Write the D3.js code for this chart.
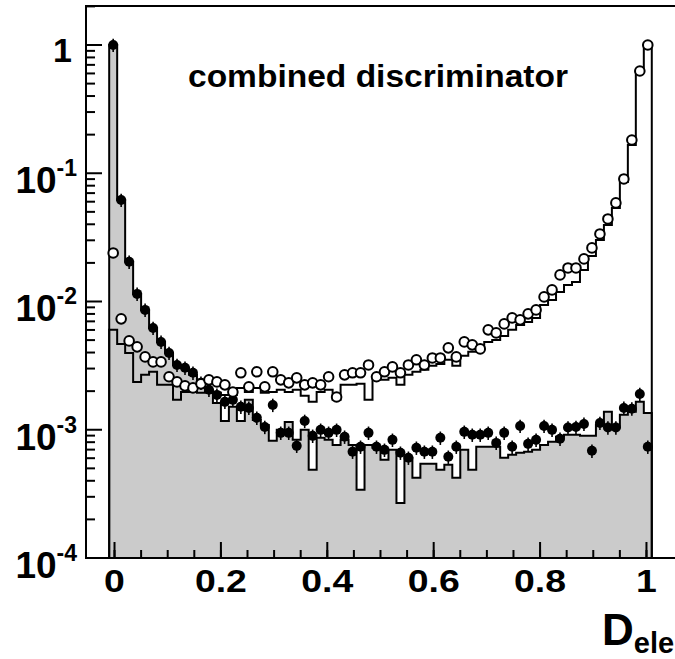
<!DOCTYPE html>
<html><head><meta charset="utf-8">
<script src="https://cdn.jsdelivr.net/npm/d3@7"></script>
<style>html,body{margin:0;padding:0;background:#fff;overflow:hidden}</style>
</head><body>
<svg id="c" width="675" height="659"></svg>
<script>
// ---- binning of the histograms ----
const binLow = -0.01, binHigh = 1.01, nBins = 68;

// ---- signal (open circles) data points ----
const sigData = [
  0.0239, 0.00732, 0.00493, 0.00443, 0.00370, 0.00338, 0.00338, 0.00259, 0.00236, 0.00220,
  0.00212, 0.00228, 0.00245, 0.00236, 0.00224, 0.00197, 0.00278, 0.00216, 0.00283, 0.00216,
  0.00283, 0.00245, 0.00232, 0.00254, 0.00224, 0.00232, 0.00224, 0.00259, 0.00180, 0.00268,
  0.00278, 0.00278, 0.00320, 0.00259, 0.00283, 0.00309, 0.00278, 0.00320, 0.00351, 0.00320,
  0.00363, 0.00363, 0.00435, 0.00370, 0.00484, 0.00459, 0.00427, 0.00601, 0.00569, 0.00669,
  0.00745, 0.00719, 0.00801, 0.00860, 0.01086, 0.01231, 0.01612, 0.01827, 0.01827, 0.02148,
  0.02617, 0.03363, 0.04402, 0.0587, 0.0903, 0.1817, 0.627, 1.0
];
// ---- signal histogram (open step line) ----
const sigHist = [
  0.00601, 0.00467, 0.00397, 0.00236, 0.00268, 0.00283, 0.00224, 0.00224, 0.00171, 0.00197,
  0.00197, 0.00194, 0.00197, 0.00194, 0.00187, 0.00187, 0.00212, 0.00197, 0.00212, 0.00194,
  0.00197, 0.00205, 0.00197, 0.00205, 0.00184, 0.00165, 0.00197, 0.00205, 0.00171, 0.00224,
  0.00224, 0.00228, 0.00171, 0.00245, 0.00245, 0.00254, 0.00224, 0.00268, 0.00283, 0.00293,
  0.00315, 0.00326, 0.00351, 0.00315, 0.00377, 0.00405, 0.00435, 0.00484, 0.00502, 0.00539,
  0.00601, 0.00657, 0.00693, 0.00745, 0.00941, 0.01029, 0.01188, 0.01347, 0.01421, 0.01763,
  0.02266, 0.0302, 0.03954, 0.0536, 0.0855, 0.1662, 0.616, 1.0
];
// ---- background (filled circles) data points ----
const bkgData = [
  1.0, 0.0619, 0.0204, 0.01146, 0.00860, 0.00622, 0.00484, 0.00397, 0.00320, 0.00304,
  0.00278, 0.00232, 0.00205, 0.00187, 0.00165, 0.00171, 0.00151, 0.00148, 0.00124, 0.00105,
  0.00156, 0.000946, 0.000946, 0.000749, 0.00117, 0.000896, 0.000998, 0.000946, 0.000998, 0.000881,
  0.000673, 0.000736, 0.000946, 0.000736, 0.000697, 0.000834, 0.000661, 0.000604, 0.000723, 0.000673,
  0.000673, 0.000865, 0.000615, 0.000736, 0.000963, 0.000913, 0.000913, 0.000946, 0.000790, 0.000946,
  0.000736, 0.00107, 0.000776, 0.000834, 0.00107, 0.000998, 0.000850, 0.00104, 0.00105, 0.00111,
  0.000685, 0.00113, 0.00104, 0.00104, 0.00148, 0.00146, 0.00190, 0.000736
];
const bkgRelErr = 0.12;
// ---- background histogram (grey filled) ----
const bkgHist = [
  1.0, 0.0619, 0.0204, 0.01146, 0.00860, 0.00622, 0.00484, 0.00397, 0.00320, 0.00304,
  0.00268, 0.00224, 0.00205, 0.00162, 0.00117, 0.00151, 0.00117, 0.00171, 0.00119, 0.00109,
  0.000819, 0.000998, 0.00115, 0.000834, 0.000998, 0.000487, 0.000865, 0.000834, 0.000762, 0.000834,
  0.000762, 0.000340, 0.000762, 0.000723, 0.000583, 0.000697, 0.000269, 0.000604, 0.000422, 0.000542,
  0.000542, 0.000487, 0.000533, 0.000422, 0.000697, 0.000487, 0.000736, 0.000736, 0.000736, 0.000604,
  0.000637, 0.000661, 0.000673, 0.000697, 0.000762, 0.000805, 0.000881, 0.000913, 0.000913, 0.000896,
  0.000896, 0.00109, 0.00138, 0.00104, 0.00131, 0.00138, 0.00165, 0.00135
];

// ---- axes ----
const xTickValues = [0, 0.2, 0.4, 0.6, 0.8, 1];
const xTickLabels = ["0", "0.2", "0.4", "0.6", "0.8", "1"];
const xMinorStep = 0.05;
const yTickValues = [1, 0.1, 0.01, 0.001, 0.0001];
const yTickExps = [null, "-1", "-2", "-3", "-4"];
const titleText = "combined discriminator";
const xTitleMain = "D", xTitleSub = "ele";

const FONT = "'Liberation Sans', Arial, Helvetica, sans-serif";
const svg = d3.select("#c");
const x = d3.scaleLinear().domain([-0.0536, 1.0574]).range([86, 677]);
const y = d3.scaleLog().domain([1e-4, 2.014]).range([558, 6]);
const yBottom = y(1e-4);

const binW = (binHigh - binLow) / nBins;
const edges = d3.range(nBins + 1).map(i => binLow + i * binW);
const centers = d3.range(nBins).map(i => binLow + (i + 0.5) * binW);

function stepPoints(vals) {
  const pts = [[edges[0], 1e-4]];
  vals.forEach((v, i) => { pts.push([edges[i], v]); pts.push([edges[i + 1], v]); });
  pts.push([edges[nBins], 1e-4]);
  return pts;
}

// grey background histogram
const bkgPts = stepPoints(bkgHist);
svg.append("path")
  .attr("d", d3.area().x(d => x(d[0])).y0(yBottom).y1(d => y(d[1]))(bkgPts))
  .attr("fill", "#cbcbcb");
svg.append("path")
  .attr("d", d3.line().x(d => x(d[0])).y(d => y(d[1]))(bkgPts))
  .attr("fill", "none").attr("stroke", "#000").attr("stroke-width", 2);

// signal histogram outline
svg.append("path")
  .attr("d", d3.line().x(d => x(d[0])).y(d => y(d[1]))(stepPoints(sigHist)))
  .attr("fill", "none").attr("stroke", "#000").attr("stroke-width", 2);

// frame
svg.append("rect").attr("x", 86).attr("y", 6).attr("width", 591).attr("height", 552)
  .attr("fill", "none").attr("stroke", "#000").attr("stroke-width", 2);

// y ticks
const yt = svg.append("g");
yTickValues.forEach(v => {
  yt.append("line").attr("x1", 86).attr("x2", 102).attr("y1", y(v)).attr("y2", y(v))
    .attr("stroke", "#000").attr("stroke-width", 2);
});
const yMinor = [];
[1e-4, 1e-3, 1e-2, 1e-1, 1].forEach(dec => { for (let m = 2; m <= 9; m++) { const v = dec * m; if (v < 2.014) yMinor.push(v); } });
yMinor.forEach(v => {
  yt.append("line").attr("x1", 86).attr("x2", 95).attr("y1", y(v)).attr("y2", y(v))
    .attr("stroke", "#000").attr("stroke-width", 2);
});
yTickValues.forEach((v, i) => {
  if (yTickExps[i] === null) {
    yt.append("text").attr("x", 72).attr("y", y(v) + 17).attr("text-anchor", "end")
      .attr("font-family", FONT).attr("font-weight", "bold").attr("font-size", 34).text("1");
  } else {
    const t = yt.append("text").attr("x", 77).attr("y", y(v) + 20).attr("text-anchor", "end")
      .attr("font-family", FONT).attr("font-weight", "bold").attr("font-size", 37);
    t.append("tspan").text("10");
    t.append("tspan").attr("dy", -17).attr("font-size", 23).text(yTickExps[i]);
  }
});

// x ticks
const xt = svg.append("g");
xTickValues.forEach((v, i) => {
  xt.append("line").attr("x1", x(v)).attr("x2", x(v)).attr("y1", 558).attr("y2", 542)
    .attr("stroke", "#000").attr("stroke-width", 2);
  xt.append("text").attr("text-anchor", "middle")
    .attr("transform", `translate(${x(v)},592) scale(1.17,1)`)
    .attr("font-family", FONT).attr("font-weight", "bold").attr("font-size", 32).text(xTickLabels[i]);
});
d3.range(0, 1.0001, xMinorStep).forEach(v => {
  xt.append("line").attr("x1", x(v)).attr("x2", x(v)).attr("y1", 558).attr("y2", 550)
    .attr("stroke", "#000").attr("stroke-width", 2);
});

// background data points with error bars
const bk = svg.append("g");
bkgData.forEach((v, i) => {
  bk.append("line").attr("x1", x(centers[i])).attr("x2", x(centers[i]))
    .attr("y1", y(v * (1 - bkgRelErr))).attr("y2", y(v * (1 + bkgRelErr)))
    .attr("stroke", "#000").attr("stroke-width", 1.6);
});
bk.selectAll("circle").data(bkgData).join("circle")
  .attr("cx", (d, i) => x(centers[i])).attr("cy", d => y(d)).attr("r", 5).attr("fill", "#000");

// signal data points (open circles)
svg.append("g").selectAll("circle").data(sigData).join("circle")
  .attr("cx", (d, i) => x(centers[i])).attr("cy", d => y(d)).attr("r", 4.8)
  .attr("fill", "#fff").attr("stroke", "#000").attr("stroke-width", 2);

// titles
svg.append("text").attr("x", 188).attr("y", 87)
  .attr("textLength", 380).attr("lengthAdjust", "spacingAndGlyphs")
  .attr("font-family", FONT).attr("font-weight", "bold").attr("font-size", 31).text(titleText);
const xtitle = svg.append("text").attr("x", 602).attr("y", 645)
  .attr("font-family", FONT).attr("font-weight", "bold").attr("font-size", 44);
xtitle.append("tspan").text(xTitleMain);
xtitle.append("tspan").attr("dy", 8).attr("font-size", 29).text(xTitleSub);
</script>
</body></html>
